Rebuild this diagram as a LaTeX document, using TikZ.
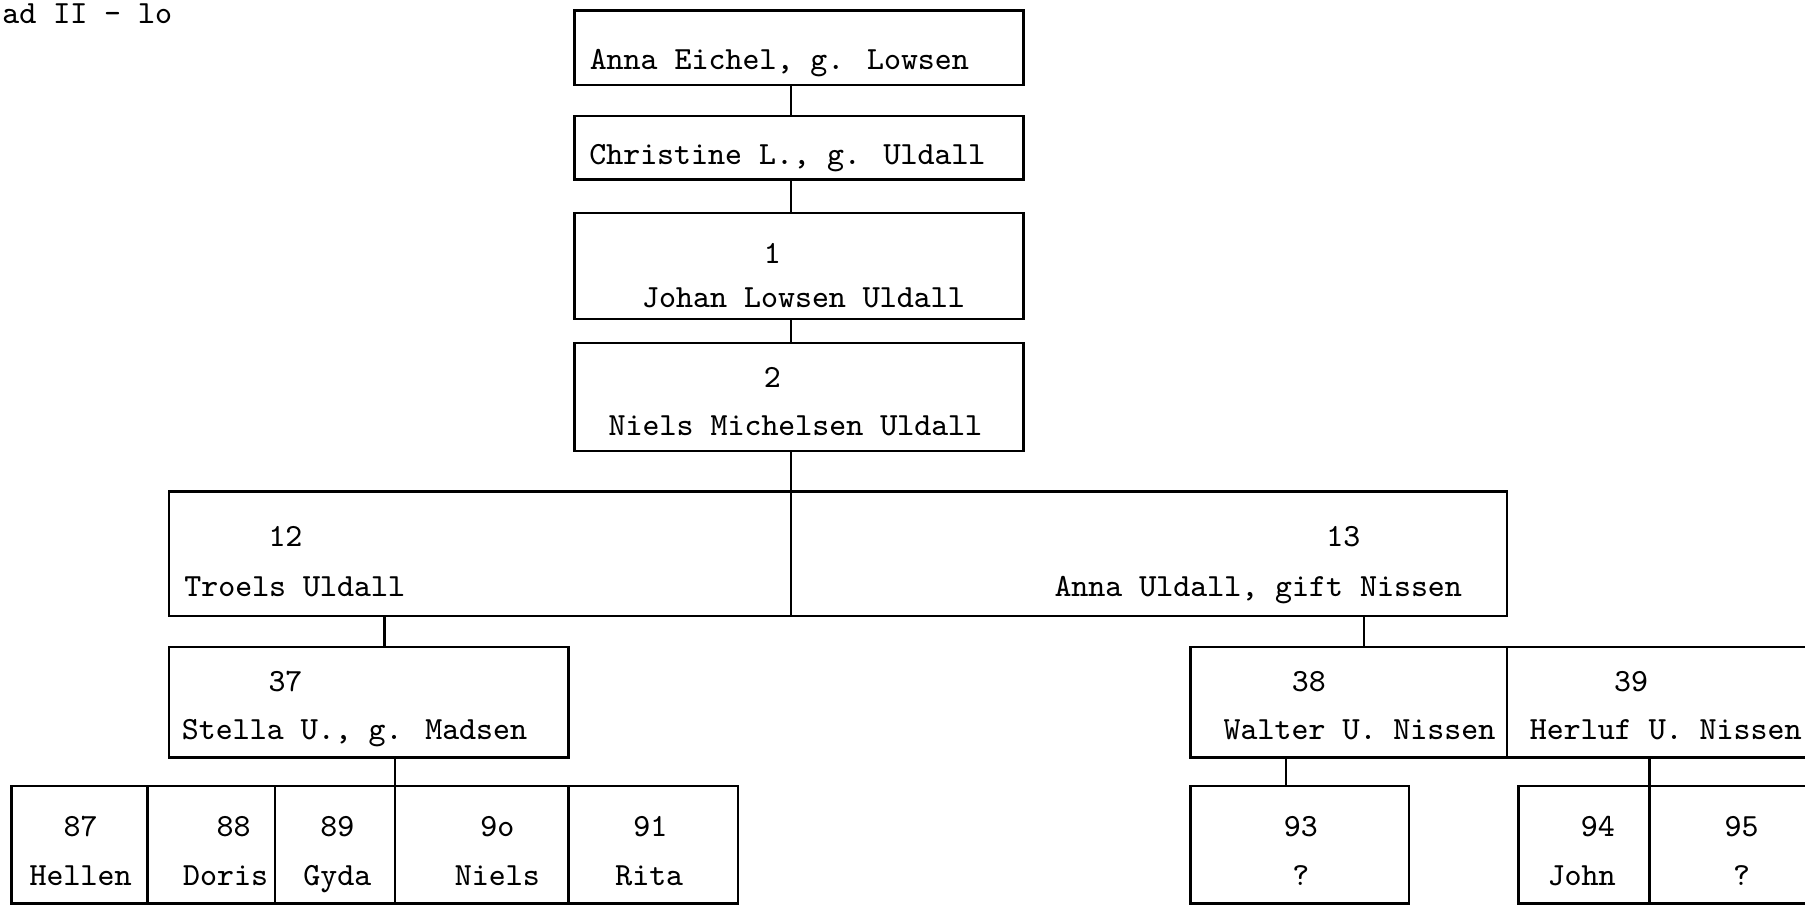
\documentclass[tikz,border=0pt]{standalone}
\usetikzlibrary{fit}
\begin{document}
\begin{tikzpicture}[x=0.11511mm, y=-0.11511mm, line width=.7pt, line cap=round,
		font=\ttfamily\fontsize{9.2}{11}\selectfont,
		box/.style={draw, rectangle, inner sep=0pt},
		txt/.style={anchor=base, inner sep=0pt}]
	\useasboundingbox (0,0) rectangle (1568,786);
	\node[anchor=base west, inner sep=0pt] (blad) at (1,20) {ad II - lo};
	% ancestors
	\node[box, fit={(499,9) (889,74)}] (anna) {};
	\node[box, fit={(499,101) (889,156)}] (christine) {};
	\node[box, fit={(499,185) (889,277)}] (johan) {};
	\node[box, fit={(499,298) (889,392)}] (niels) {};
	\path
	(677,60) node[txt] (tanna) {Anna Eichel, g. Lowsen}
	(684,143) node[txt] (tchristine) {Christine L., g. Uldall}
	(671,229) node[txt] (njohan) {1}
	(698,267) node[txt] (tjohan) {Johan Lowsen Uldall}
	(671,337) node[txt] (nniels) {2}
	(691,378) node[txt] (tniels) {Niels Michelsen Uldall}
	;
	% children
	\node[box, fit={(147,427) (687,535)}] (troels) {};
	\node[box, fit={(687,427) (1309,535)}] (annau) {};
	\path
	(248,475) node[txt] (ntroels) {12}
	(256,518) node[txt] (ttroels) {Troels Uldall}
	(1167,475) node[txt] (nannau) {13}
	(1093,518) node[txt] (tannau) {Anna Uldall, gift Nissen}
	;
	% grandchildren
	\node[box, fit={(147,562) (494,658)}] (stella) {};
	\node[box, fit={(1034,562) (1309,658)}] (walter) {};
	\node[box, fit={(1309,562) (1590,658)}] (herluf) {};
	\path
	(248,601) node[txt] (nstella) {37}
	(308,642) node[txt] (tstella) {Stella U., g. Madsen}
	(1137,601) node[txt] (nwalter) {38}
	(1181,642) node[txt] (twalter) {Walter U. Nissen}
	(1417,601) node[txt] (nherluf) {39}
	(1447,642) node[txt] (therluf) {Herluf U. Nissen}
	;
	% great-grandchildren
	\foreach \l/\r/\num/\name/\nx/\mx in {10/128/87/Hellen/70/70, 128/239/88/Doris/203/196,
		239/343/89/Gyda/293/293, 343/494/9o/Niels/432/432, 494/641/91/Rita/565/564,
		1034/1224/93/?/1130/1130, 1319/1433/94/John/1388/1374, 1433/1590/95/?/1513/1513}{
		\node[box, fit={(\l,683) (\r,785)}] (g\num) {};
		\node[txt] (n\num) at (\nx,727) {\num};
		\node[txt] (m\num) at (\mx,769) {\name};
	}
	% connectors
	\coordinate (spine) at (687,0);
	\coordinate (ts) at (334,0);
	\coordinate (ta) at (1185,0);
	\coordinate (sg) at (343,0);
	\coordinate (wg) at (1117,0);
	\coordinate (hg) at (1433,0);
	\draw (spine |- anna.south) -- (spine |- christine.north);
	\draw (spine |- christine.south) -- (spine |- johan.north);
	\draw (spine |- johan.south) -- (spine |- niels.north);
	\draw (spine |- niels.south) -- (spine |- troels.north);
	\draw (ts |- troels.south) -- (ts |- stella.north);
	\draw (ta |- annau.south) -- (ta |- walter.north);
	\draw (sg |- stella.south) -- (sg |- g89.north);
	\draw (wg |- walter.south) -- (wg |- g93.north);
	\draw (hg |- herluf.south) -- (hg |- g94.north);
\end{tikzpicture}
\end{document}
